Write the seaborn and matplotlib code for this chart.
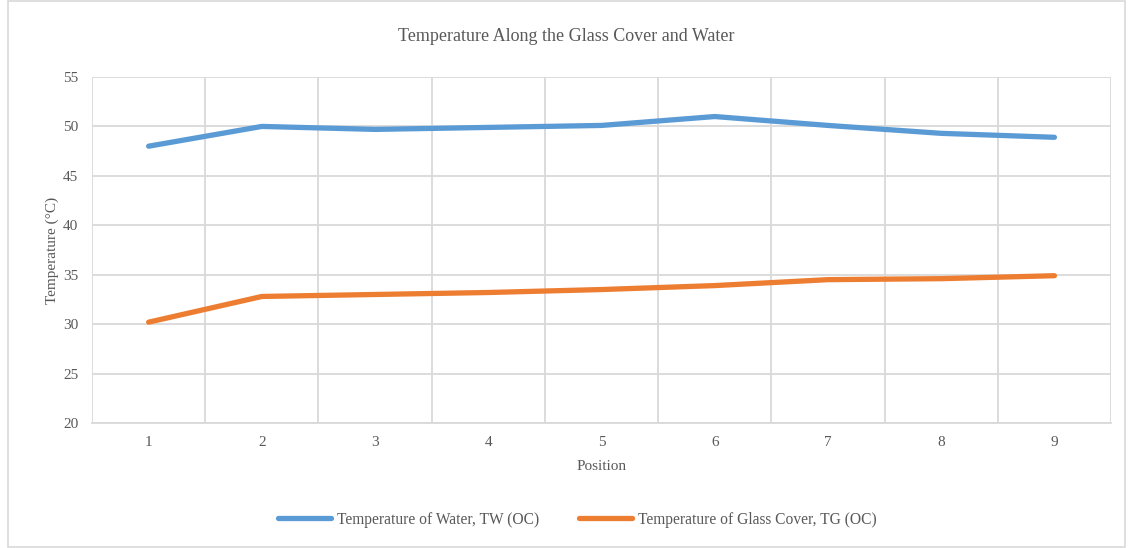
import pandas as pd
import matplotlib.pyplot as plt
import seaborn as sns
from matplotlib.patches import Rectangle

# Dados
posicao = [1, 2, 3, 4, 5, 6, 7, 8, 9]
temp_agua = [48.0, 50.0, 49.7, 49.9, 50.1, 51.0, 50.1, 49.3, 48.9]
temp_vidro = [30.2, 32.8, 33.0, 33.2, 33.5, 33.9, 34.5, 34.6, 34.9]
series = ["Temperature of Water, TW (OC)", "Temperature of Glass Cover, TG (OC)"]
cores = ["#5B9BD5", "#ED7D31"]

df = pd.DataFrame({
    "Position": posicao * 2,
    "Temperature": temp_agua + temp_vidro,
    "Serie": [series[0]] * len(posicao) + [series[1]] * len(posicao),
})

sns.set_theme(style="white")
plt.rcParams["font.family"] = ["Liberation Serif", "DejaVu Serif"]
cinza = "#595959"
grade = "#d9d9d9"

fig = plt.figure(figsize=(11.32, 5.48), dpi=100)
ax = fig.add_axes([0.0813, 0.2281, 0.9002, 0.6314])

sns.lineplot(data=df, x="Position", y="Temperature", hue="Serie",
             palette=cores, linewidth=3.8, ax=ax, solid_capstyle="round")

ax.set_xlim(0.5, 9.5)
ax.set_ylim(20, 55)
ax.set_xticks(posicao)
ax.set_xticks([p + 0.5 for p in [0] + posicao], minor=True)
ax.set_yticks(range(20, 56, 5))
ax.tick_params(axis="both", which="both", length=0, labelsize=11, colors=cinza)
ax.tick_params(axis="x", pad=9)
ax.tick_params(axis="y", pad=10)
ax.grid(axis="y", which="major", color=grade, linewidth=1.3)
ax.grid(axis="x", which="minor", color=grade, linewidth=1.3)
ax.set_axisbelow(True)
for lado in ["top", "right", "left"]:
    ax.spines[lado].set_visible(False)
ax.spines["bottom"].set_color(grade)
ax.spines["bottom"].set_linewidth(1.3)

ax.set_xlabel("Position", fontsize=11, color=cinza, labelpad=8)
ax.set_ylabel("Temperature (°C)", fontsize=11, color=cinza, labelpad=3)
fig.text(0.5, 0.934, "Temperature Along the Glass Cover and Water",
         ha="center", va="center", fontsize=13, color=cinza)

leg = ax.legend(loc="center", bbox_to_anchor=(0.51, 0.052), bbox_transform=fig.transFigure,
                ncol=2, frameon=False, fontsize=11.2, handlelength=3.4,
                handletextpad=0.4, columnspacing=2.6)
for t in leg.get_texts():
    t.set_color(cinza)

# Borda da área do gráfico
fig.patches.append(Rectangle((0.007, 0.002), 0.987, 0.996, transform=fig.transFigure,
                             fill=False, edgecolor=grade, linewidth=1.2))

fig.savefig("out.png", dpi=100)
